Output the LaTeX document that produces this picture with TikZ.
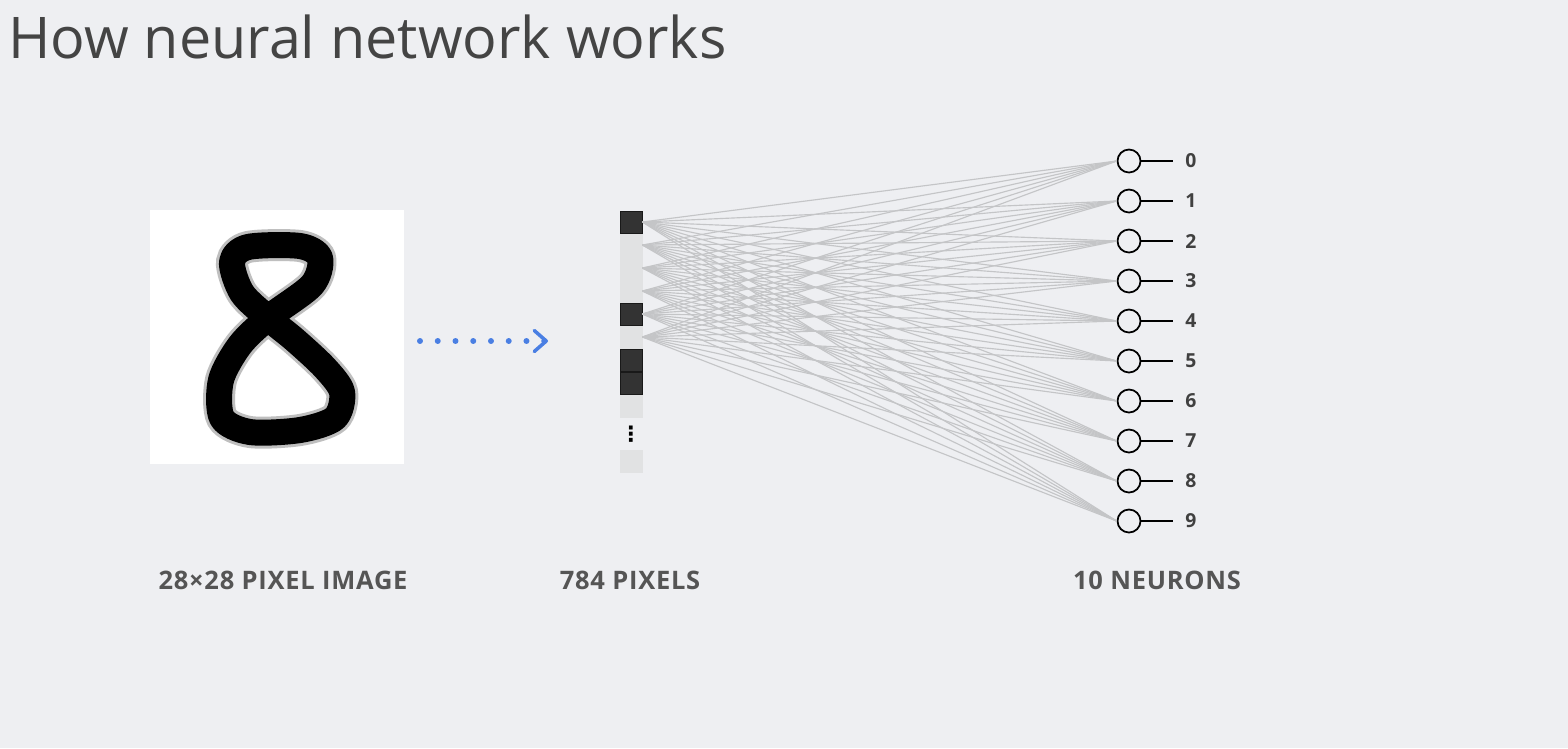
\documentclass[tikz,border=0pt]{standalone}
\usepackage{fontspec}
\setmainfont{Open Sans}
\newfontfamily\symbolfont{DejaVu Sans}
\usetikzlibrary{arrows.meta}
\definecolor{bg}{HTML}{EEEFF2}
\definecolor{titlegray}{HTML}{444444}
\definecolor{labelgray}{HTML}{555555}
\definecolor{pixdark}{HTML}{333333}
\definecolor{pixlight}{HTML}{E1E2E3}
\definecolor{wiregray}{HTML}{C4C5C7}
\definecolor{flowblue}{HTML}{4A7FE3}
\tikzset{%
  % Specifications for style of nodes:
  base/.style = {inner sep=0pt, text centered},
  cell/.style = {base, minimum size=0.44cm, draw=pixlight, fill=pixlight},
  darkcell/.style = {cell, draw=black!90, fill=pixdark, line width=0.4pt},
  neuron/.style = {base, circle, draw=black, line width=1pt, minimum size=0.46cm},
  digit/.style = {base, anchor=west, inner xsep=0.24cm,
    font=\fontsize{11}{12}\selectfont\bfseries, text=black!75},
  caption/.style = {base, anchor=base,
    font=\fontsize{14.5}{16}\selectfont\bfseries\addfontfeature{LetterSpace=3},
    text=labelgray},
  % lines
  wire/.style = {wiregray, line width=0.65pt},
  flow/.style = {flowblue, line width=3.4pt, line cap=round,
    dash pattern=on 0pt off 10.1pt,
    -{Straight Barb[length=0.24cm, width=0.42cm, line width=2pt, round]}},
}

\begin{document}
\begin{tikzpicture}[x=0.02cm, y=-0.02cm]
  \fill[bg] (0,0) rectangle (1568,748);
  \useasboundingbox (0,0) rectangle (1568,748);
  % title
  \node (title) [base, anchor=base west, font=\fontsize{32.7}{40}\selectfont,
    text=titlegray] at (8,58) {How neural network works};
  % input image
  \node (img) [base, fill=white, minimum size=5.08cm] at (277,337) {};
  \draw[black, line width=0.52cm, line join=round,
    preaction={draw=black!25, line width=0.64cm}]
    plot[smooth cycle] coordinates {(268,318) (242,293) (232,262) (248,247)
      (300,246) (320,258) (312,285) (268,318) (240,345) (221,380) (222,418)
      (250,432) (300,430) (335,418) (342,392) (325,368) (295,340)};
  % pixels
  \foreach \i/\y/\s in {1/222/darkcell, 2/245/cell, 3/268/cell, 4/291/cell,
      5/314/darkcell, 6/337/cell, 7/360/darkcell, 8/383/darkcell, 9/406/cell}
    \node (p\i) [\s] at (631,\y) {};
  \node (vdots) [base, font=\symbolfont\fontsize{12}{12}\selectfont\bfseries]
    at (631,434) {⋮};
  \node (p10) [cell] at (631,461) {};
  % neurons
  \foreach \j in {0,...,9} {
    \node (n\j) [neuron] at (1129,{161+40*\j}) {};
    \node (d\j) [digit] at (1173,{161+40*\j}) {\j};
    \draw[line width=1pt] (n\j) -- (d\j.west);
  }
  % lines
  \foreach \i in {1,...,6}
    \foreach \j in {0,...,9}
      \draw[wire] (p\i.east) -- (n\j.west);
  \coordinate (flowstart) at (420,341);
  \coordinate (flowend) at (548,341);
  \draw[flow] (flowstart) -- (flowend);
  % captions
  \node (capimg) [caption] at (283,589) {28×28 PIXEL IMAGE};
  \node (cappix) [caption] at (630,589) {784 PIXELS};
  \node (capneu) [caption] at (1157,589) {10 NEURONS};
\end{tikzpicture}
\end{document}
